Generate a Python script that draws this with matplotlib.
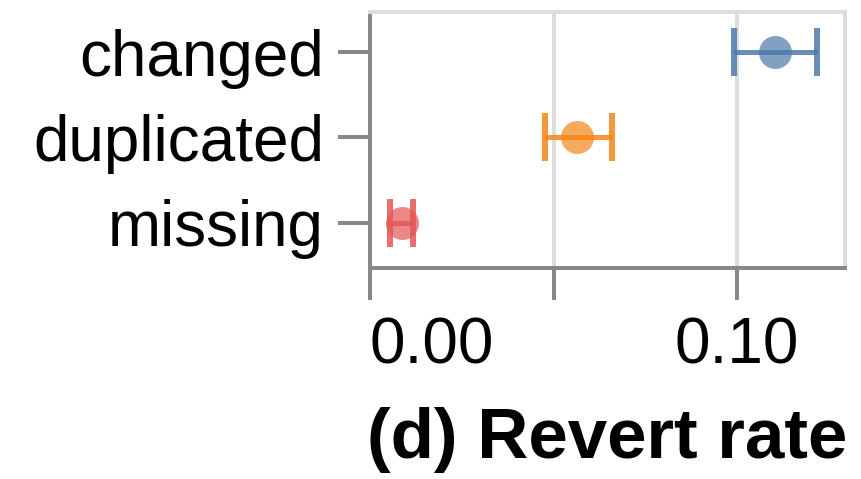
import matplotlib
matplotlib.use("Agg")
import matplotlib.pyplot as plt

categories = ["changed", "duplicated", "missing"]
rate = [0.1104, 0.0564, 0.0087]
ci_low = [0.0992, 0.0477, 0.0054]
ci_high = [0.1218, 0.0659, 0.0117]
colors = ["#4c78a8", "#f58518", "#e45756"]
x_ticks = [0.0, 0.05, 0.10]
x_ticklabels = ["0.00", "", "0.10"]
title = "(d) Revert rate"

plt.rcParams['font.family'] = ['Liberation Sans', 'DejaVu Sans']
DPI = 100
fig = plt.figure(figsize=(8.61, 4.79), dpi=DPI)
ax = fig.add_axes([370/861, 1-268/479, (845-370)/861, (268-12)/479])

px = 72 / DPI  # points per pixel

for i, (c, r, lo, hi, col) in enumerate(zip(categories, rate, ci_low, ci_high, colors)):
    ax.errorbar([r], [i], xerr=[[r - lo], [hi - r]], fmt='none', ecolor=col,
                elinewidth=5*px, capsize=24*px, capthick=6*px, alpha=0.85, zorder=3)
    ax.plot([r], [i], 'o', ms=33*px, color=col, alpha=0.7, mec='none', zorder=4)

ax.set_yticks(range(len(categories)))
ax.set_yticklabels(categories)
ax.set_ylim(2.53, -0.47)
ax.set_xlim(0, 0.1294)
ax.set_xticks(x_ticks)
ax.set_xticklabels(x_ticklabels)
ax.get_xticklabels()[0].set_ha('left')

ax.grid(axis='x', color='#dddddd', lw=4*px, zorder=0)
ax.set_axisbelow(True)
for s in ['left', 'bottom']:
    ax.spines[s].set_color('#888888')
    ax.spines[s].set_linewidth(4*px)
for s in ['top', 'right']:
    ax.spines[s].set_color('#dddddd')
    ax.spines[s].set_linewidth(4*px)

ax.tick_params(axis='both', length=32*px, width=4*px, color='#888888',
               labelsize=46, labelcolor='black')
ax.tick_params(axis='y', pad=14*px)
ax.tick_params(axis='x', pad=16*px)

ax.set_xlabel(title, fontsize=51, fontweight='bold', labelpad=22)

fig.savefig("out.png", dpi=DPI)
